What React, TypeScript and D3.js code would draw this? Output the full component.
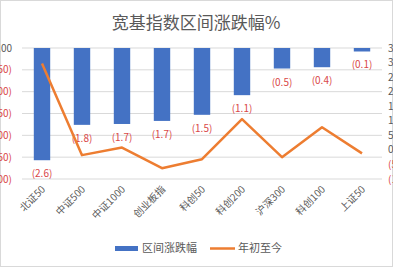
import React from 'react';
import * as d3 from 'd3';

const categories = ['北证50', '中证500', '中证1000', '创业板指', '科创50', '科创200', '沪深300', '科创100', '上证50'];
const rangeChange = [-2.57, -1.76, -1.74, -1.67, -1.53, -1.08, -0.47, -0.44, -0.08];
const ytd = [29.7, -1.8, 0.8, -6.3, -3.2, 10.6, -2.5, 7.8, -1.2];
const leftTicks = [0, -0.5, -1, -1.5, -2, -2.5, -3];
const rightTicks = [35, 30, 25, 20, 15, 10, 5, 0, -5, -10];

const W = 393, H = 267;
const blue = '#4472c4', orange = '#ed7d31', red = '#d94848', grey = '#595959';
const font = '"Noto Sans CJK SC", "Liberation Sans", sans-serif';

const fmtL = (v: number) => v < 0 ? `(${Math.abs(v).toFixed(2)})` : v.toFixed(2);
const fmtR = (v: number) => v < 0 ? `(${Math.abs(v)})` : `${v}`;
const fmtBar = (v: number) => `(${Math.abs(v).toFixed(1)})`;

export default function App() {
    const x = d3.scaleBand<string>().domain(categories).range([22, 382]);
    const yL = d3.scaleLinear().domain([-3, 0]).range([179, 48]);
    const yR = d3.scaleLinear().domain([-10, 35]).range([179, 48]);
    const bw = x.bandwidth() * 0.41;
    const cx = (c: string) => (x(c) as number) + x.bandwidth() / 2;
    const line = d3.line<number>()
        .x((d, i) => cx(categories[i]))
        .y(d => yR(d));

    return (
        <svg width={W} height={H} style={{ position: 'absolute', left: 0, top: 0, background: '#fff' }} fontFamily={font}>
            <rect x={0.5} y={0.5} width={W - 1} height={H - 1} fill="#fff" stroke="#d9d9d9" />
            <text x={196} y={29} textAnchor="middle" fontSize={17} fill={grey}>宽基指数区间涨跌幅%</text>
            {/* gridlines */}
            {leftTicks.map(t => (
                <line key={t} x1={22} x2={382} y1={yL(t)} y2={yL(t)} stroke="#d9d9d9" />
            ))}
            {leftTicks.map(t => (
                <text key={'l' + t} x={12} y={yL(t) + 3.5} textAnchor="end" fontSize={10} fill={t < 0 ? red : grey}>{fmtL(t)}</text>
            ))}
            {rightTicks.map(t => (
                <text key={'r' + t} x={388} y={yR(t) + 3.5} fontSize={10} fill={t < 0 ? red : grey}>{fmtR(t)}</text>
            ))}
            {/* bars */}
            {categories.map((c, i) => (
                <rect key={c} x={cx(c) - bw / 2} y={yL(0)} width={bw} height={yL(rangeChange[i]) - yL(0)} fill={blue} />
            ))}
            {categories.map((c, i) => (
                <text key={'v' + c} x={cx(c)} y={yL(rangeChange[i]) + 17} textAnchor="middle" fontSize={10} fill={red}>{fmtBar(rangeChange[i])}</text>
            ))}
            <path d={line(ytd) || ''} fill="none" stroke={orange} strokeWidth={2.5} strokeLinejoin="round" />
            {/* category labels */}
            {categories.map(c => (
                <text key={'c' + c} transform={`translate(${cx(c) + 4},${190}) rotate(-45)`} textAnchor="end" fontSize={10} fill={grey}>{c}</text>
            ))}
            {/* legend */}
            <rect x={115} y={246} width={23} height={5} fill={blue} />
            <text x={142} y={252} fontSize={11} fill={grey}>区间涨跌幅</text>
            <line x1={210} x2={235} y1={248.5} y2={248.5} stroke={orange} strokeWidth={2.5} />
            <text x={238} y={252} fontSize={11} fill={grey}>年初至今</text>
        </svg>
    );
}
